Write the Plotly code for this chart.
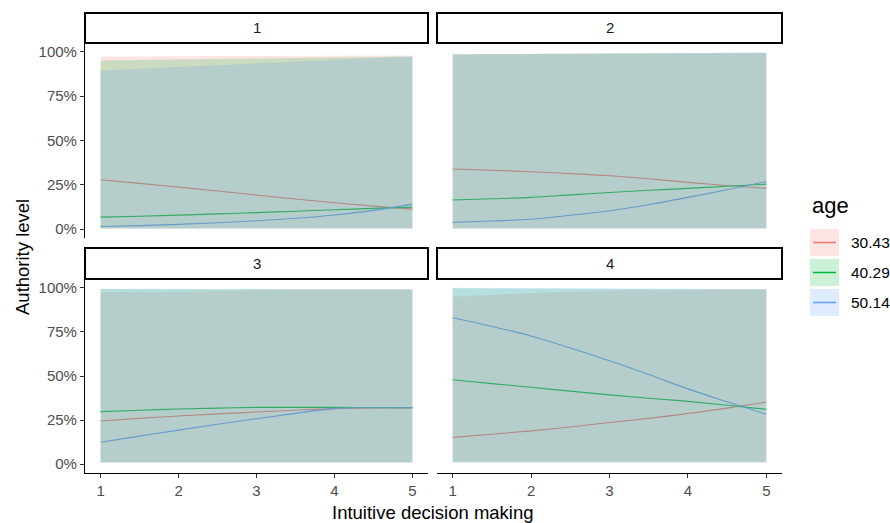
import plotly.graph_objects as go

# ---------------- data ----------------
panels = ["1", "2", "3", "4"]
age_levels = ["30.43", "40.29", "50.14"]

x_vals = [1, 1.5, 2, 2.5, 3, 3.5, 4, 4.5, 5]

# predicted authority level (%) per panel and age
p1_age30 = [27.9, 25.8, 23.7, 21.5, 19.2, 17.0, 14.9, 13.0, 11.3]
p1_age40 = [6.8, 7.3, 7.9, 8.6, 9.3, 10.1, 10.9, 11.7, 12.4]
p1_age50 = [1.5, 2.0, 2.7, 3.6, 4.7, 6.1, 8.0, 10.6, 14.1]

p2_age30 = [33.9, 33.2, 32.4, 31.3, 30.1, 28.4, 26.4, 24.6, 23.0]
p2_age40 = [16.4, 17.1, 17.9, 19.3, 20.7, 21.9, 23.0, 24.2, 25.4]
p2_age50 = [3.8, 4.6, 5.6, 7.8, 10.4, 13.8, 17.9, 22.2, 26.9]

p3_age30 = [24.5, 26.0, 27.3, 28.5, 29.6, 30.6, 31.5, 31.9, 32.0]
p3_age40 = [29.8, 30.6, 31.3, 31.8, 32.2, 32.2, 32.2, 32.1, 32.0]
p3_age50 = [12.4, 15.9, 19.3, 22.6, 25.8, 28.8, 31.5, 32.0, 32.0]

p4_age30 = [15.2, 17.0, 18.9, 21.1, 23.6, 26.0, 28.7, 31.8, 35.2]
p4_age40 = [47.9, 45.7, 43.6, 41.4, 39.3, 37.4, 35.6, 33.4, 31.1]
p4_age50 = [83.0, 78.1, 72.7, 65.9, 58.6, 50.8, 42.7, 35.4, 28.3]

# confidence band bounds (%)
band_x = [1, 2, 3, 4, 5]
p1_lo30 = [0.3, 0.3, 0.3, 0.3, 0.3]
p1_hi30 = [97.4, 97.6, 97.8, 97.9, 98.0]
p1_lo40 = [0.3, 0.3, 0.3, 0.3, 0.3]
p1_hi40 = [95.1, 95.7, 96.3, 96.9, 97.4]
p1_lo50 = [0.3, 0.3, 0.3, 0.3, 0.3]
p1_hi50 = [89.5, 91.4, 93.2, 95.3, 97.4]

p2_lo30 = [0.4, 0.4, 0.4, 0.4, 0.4]
p2_hi30 = [98.8, 98.9, 99.0, 99.2, 99.4]
p2_lo40 = [0.4, 0.4, 0.4, 0.4, 0.4]
p2_hi40 = [98.6, 98.8, 99.0, 99.2, 99.5]
p2_lo50 = [0.4, 0.4, 0.4, 0.4, 0.4]
p2_hi50 = [98.4, 98.7, 99.0, 99.3, 99.6]

p3_lo30 = [1.0, 1.0, 1.0, 1.0, 1.0]
p3_hi30 = [97.6, 97.8, 98.8, 98.9, 99.0]
p3_lo40 = [1.0, 1.0, 1.0, 1.0, 1.0]
p3_hi40 = [99.3, 99.2, 99.0, 99.0, 99.0]
p3_lo50 = [1.0, 1.0, 1.0, 1.0, 1.0]
p3_hi50 = [99.5, 99.5, 99.2, 99.2, 99.2]

p4_lo30 = [1.1, 1.1, 1.1, 1.1, 1.1]
p4_hi30 = [95.0, 97.0, 98.5, 99.0, 99.2]
p4_lo40 = [1.1, 1.1, 1.1, 1.1, 1.1]
p4_hi40 = [99.8, 99.5, 99.2, 99.0, 99.0]
p4_lo50 = [1.1, 1.1, 1.1, 1.1, 1.1]
p4_hi50 = [100.0, 99.8, 99.6, 99.4, 99.3]

y_tick_vals = [0, 25, 50, 75, 100]
y_tick_text = ["0%", "25%", "50%", "75%", "100%"]
x_tick_vals = [1, 2, 3, 4, 5]

lines = {
    "1": [p1_age30, p1_age40, p1_age50],
    "2": [p2_age30, p2_age40, p2_age50],
    "3": [p3_age30, p3_age40, p3_age50],
    "4": [p4_age30, p4_age40, p4_age50],
}
bands = {
    "1": [(p1_lo30, p1_hi30), (p1_lo40, p1_hi40), (p1_lo50, p1_hi50)],
    "2": [(p2_lo30, p2_hi30), (p2_lo40, p2_hi40), (p2_lo50, p2_hi50)],
    "3": [(p3_lo30, p3_hi30), (p3_lo40, p3_hi40), (p3_lo50, p3_hi50)],
    "4": [(p4_lo30, p4_hi30), (p4_lo40, p4_hi40), (p4_lo50, p4_hi50)],
}

# ---------------- styling ----------------
W, H = 890, 523
FONT = "Liberation Sans, Arial, sans-serif"
base_rgb = [(248, 118, 109), (0, 186, 56), (97, 156, 255)]
ALPHA = 0.2


def blend_under_ribbons(c):
    # colour of a line seen through the three stacked translucent ribbons
    r, g, b = c
    for rc in base_rgb:
        r = r * (1 - ALPHA) + rc[0] * ALPHA
        g = g * (1 - ALPHA) + rc[1] * ALPHA
        b = b * (1 - ALPHA) + rc[2] * ALPHA
    return "rgb(%d,%d,%d)" % (round(r), round(g), round(b))


fill_cols = ["rgba(%d,%d,%d,%.2f)" % (c[0], c[1], c[2], ALPHA) for c in base_rgb]
line_cols = [blend_under_ribbons(c) for c in base_rgb]
key_line_cols = ["rgb(%d,%d,%d)" % c for c in base_rgb]


def px(x):
    return x / W


def py(y):
    return 1 - y / H


panel_box = {"1": (85, 428, 43, 238), "2": (437, 782, 43, 238),
             "3": (85, 428, 279, 473), "4": (437, 782, 279, 473)}
strip_box = {"1": (85, 428, 13, 43), "2": (437, 782, 13, 43),
             "3": (85, 428, 248, 279), "4": (437, 782, 248, 279)}

fig = go.Figure()

for i, p in enumerate(panels):
    xa = "x" if i == 0 else "x%d" % (i + 1)
    ya = "y" if i == 0 else "y%d" % (i + 1)
    # ribbons
    for k in range(3):
        lo, hi = bands[p][k]
        fig.add_trace(go.Scatter(
            x=band_x + band_x[::-1], y=hi + lo[::-1], fill="toself",
            fillcolor=fill_cols[k], line=dict(width=0), mode="lines",
            xaxis=xa, yaxis=ya, showlegend=False, hoverinfo="skip"))
    # lines
    for k in range(3):
        fig.add_trace(go.Scatter(
            x=x_vals, y=lines[p][k], mode="lines", line_shape="spline",
            line=dict(color=line_cols[k], width=1.1),
            xaxis=xa, yaxis=ya, showlegend=False, name=age_levels[k]))

layout = dict(
    width=W, height=H, margin=dict(l=0, r=0, t=0, b=0),
    paper_bgcolor="white", plot_bgcolor="white", showlegend=False,
    font=dict(family=FONT),
)
for i, p in enumerate(panels):
    x0, x1, y0, y1 = panel_box[p]
    xk = "xaxis" if i == 0 else "xaxis%d" % (i + 1)
    yk = "yaxis" if i == 0 else "yaxis%d" % (i + 1)
    bottom = p in ("3", "4")
    left = p in ("1", "3")
    layout[xk] = dict(
        domain=[px(x0), px(x1)], anchor="y" if i == 0 else "y%d" % (i + 1),
        range=[0.8, 5.2], showgrid=False, zeroline=False,
        showline=bottom, linecolor="black", linewidth=1.1,
        ticks="outside" if bottom else "", ticklen=4, tickcolor="#333333",
        tickwidth=1, tickvals=x_tick_vals, showticklabels=bottom,
        tickfont=dict(size=15, color="#4D4D4D", family=FONT),
    )
    layout[yk] = dict(
        domain=[py(y1), py(y0)], anchor="x" if i == 0 else "x%d" % (i + 1),
        range=[-5, 105], showgrid=False, zeroline=False,
        showline=left, linecolor="black", linewidth=1.1,
        ticks="outside" if left else "", ticklen=4, tickcolor="#333333",
        tickwidth=1, tickvals=y_tick_vals, ticktext=y_tick_text,
        showticklabels=left,
        tickfont=dict(size=15, color="#4D4D4D", family=FONT),
    )

shapes = []
annotations = []
for p in panels:
    x0, x1, y0, y1 = strip_box[p]
    shapes.append(dict(type="rect", xref="paper", yref="paper",
                       x0=px(x0), x1=px(x1), y0=py(y1), y1=py(y0),
                       line=dict(color="black", width=2), fillcolor="white"))
    annotations.append(dict(text=p, xref="paper", yref="paper",
                            x=px((x0 + x1) / 2), y=py((y0 + y1) / 2),
                            showarrow=False, xanchor="center", yanchor="middle",
                            font=dict(size=15, color="#1A1A1A", family=FONT)))

# axis titles
annotations.append(dict(text="Intuitive decision making", xref="paper", yref="paper",
                        x=px(433), y=py(512), showarrow=False,
                        xanchor="center", yanchor="middle",
                        font=dict(size=18.5, color="black", family=FONT)))
annotations.append(dict(text="Authority level", xref="paper", yref="paper",
                        x=px(22), y=py(257), showarrow=False, textangle=-90,
                        xanchor="center", yanchor="middle",
                        font=dict(size=18.5, color="black", family=FONT)))

# legend (drawn manually to mimic ggplot keys)
annotations.append(dict(text="age", xref="paper", yref="paper",
                        x=px(810), y=py(205), showarrow=False,
                        xanchor="left", yanchor="middle",
                        font=dict(size=22, color="black", family=FONT)))
key_tops = [229, 259, 289]
for k in range(3):
    t = key_tops[k]
    shapes.append(dict(type="rect", xref="paper", yref="paper",
                       x0=px(810), x1=px(839), y0=py(t + 27), y1=py(t),
                       line=dict(width=0), fillcolor=fill_cols[k]))
    shapes.append(dict(type="line", xref="paper", yref="paper",
                       x0=px(813), x1=px(836), y0=py(t + 13.5), y1=py(t + 13.5),
                       line=dict(color=key_line_cols[k], width=1.5)))
    annotations.append(dict(text=age_levels[k], xref="paper", yref="paper",
                            x=px(849), y=py(t + 13.5), showarrow=False,
                            xanchor="left", yanchor="middle",
                            font=dict(size=15.5, color="black", family=FONT)))

layout["shapes"] = shapes
layout["annotations"] = annotations
fig.update_layout(**layout)

fig.write_html("out.html")
